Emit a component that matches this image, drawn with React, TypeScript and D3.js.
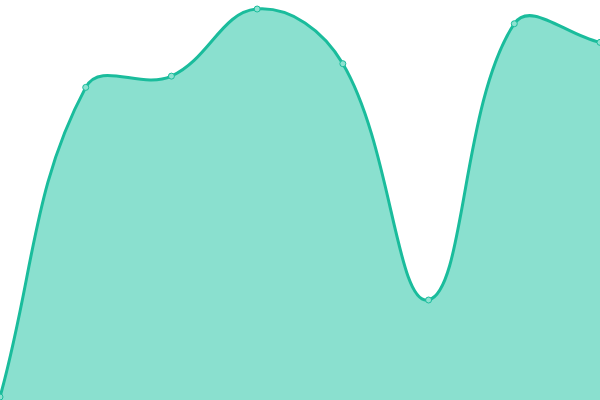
import React, { useEffect, useRef } from "react";
import * as d3 from "d3";

// values (y axis hidden, 0..100)
const labels = ["A", "B", "C", "D", "E", "F", "G", "H"];
const values = [0, 79.8, 82.7, 100, 85.9, 25, 96.2, 91.4];

const WIDTH = 600;
const HEIGHT = 400;
const LINE_COLOR = "#1abc9c";
const FILL_COLOR = "#8ae0cf";
const POINT_FILL = "#8ee2d1";

// spline like Chart.js "tension": control points weighted by the segment lengths
class TensionSpline {
  _context: any;
  _t: number;
  _w: number;
  _h: number;
  _line = NaN;
  _pts: [number, number][] = [];

  constructor(context: any, t: number, w: number, h: number) {
    this._context = context;
    this._t = t;
    this._w = w;
    this._h = h;
  }
  areaStart() {
    this._line = 0;
  }
  areaEnd() {
    this._line = NaN;
  }
  lineStart() {
    this._pts = [];
  }
  point(x: number, y: number) {
    this._pts.push([+x, +y]);
  }
  lineEnd() {
    const p = this._pts;
    const n = p.length;
    const ctx = this._context;
    const clampX = (v: number) => Math.max(0, Math.min(this._w, v));
    const clampY = (v: number) => Math.max(0, Math.min(this._h, v));
    if (n) {
      if (this._line) ctx.lineTo(p[0][0], p[0][1]);
      else ctx.moveTo(p[0][0], p[0][1]);

      const cpPrev: [number, number][] = [];
      const cpNext: [number, number][] = [];
      for (let i = 0; i < n; i++) {
        const prev = p[Math.max(0, i - 1)];
        const cur = p[i];
        const next = p[Math.min(n - 1, i + 1)];
        const d01 = Math.hypot(cur[0] - prev[0], cur[1] - prev[1]);
        const d12 = Math.hypot(next[0] - cur[0], next[1] - cur[1]);
        let s01 = d01 / (d01 + d12);
        let s12 = d12 / (d01 + d12);
        if (isNaN(s01)) s01 = 0;
        if (isNaN(s12)) s12 = 0;
        const fa = this._t * s01;
        const fb = this._t * s12;
        const dx = next[0] - prev[0];
        const dy = next[1] - prev[1];
        cpPrev.push([clampX(cur[0] - fa * dx), clampY(cur[1] - fa * dy)]);
        cpNext.push([clampX(cur[0] + fb * dx), clampY(cur[1] + fb * dy)]);
      }
      for (let i = 1; i < n; i++) {
        ctx.bezierCurveTo(
          cpNext[i - 1][0], cpNext[i - 1][1],
          cpPrev[i][0], cpPrev[i][1],
          p[i][0], p[i][1]
        );
      }
    }
    if (this._line || (this._line !== 0 && n === 1)) ctx.closePath();
    this._line = 1 - this._line;
  }
}

const tensionCurve = (t: number, w: number, h: number) => (context: any) =>
  new TensionSpline(context, t, w, h) as any;

export default function App() {
  const ref = useRef<SVGSVGElement>(null);

  useEffect(() => {
    document.body.style.margin = "0";
    if (!ref.current) return;
    const svg = d3.select(ref.current);
    svg.selectAll("*").remove();

    const x = d3
      .scalePoint<string>()
      .domain(labels)
      .range([0, WIDTH]);

    const y = d3.scaleLinear().domain([0, 100]).range([397, 9]);

    const curve = tensionCurve(0.4, WIDTH, HEIGHT);

    const area = d3
      .area<number>()
      .x((_, i) => x(labels[i]) as number)
      .y0(HEIGHT)
      .y1((d) => y(d))
      .curve(curve);

    const line = d3
      .line<number>()
      .x((_, i) => x(labels[i]) as number)
      .y((d) => y(d))
      .curve(curve);

    svg
      .append("path")
      .datum(values)
      .attr("fill", FILL_COLOR)
      .attr("d", area);

    svg
      .append("path")
      .datum(values)
      .attr("fill", "none")
      .attr("stroke", LINE_COLOR)
      .attr("stroke-width", 3)
      .attr("d", line);

    svg
      .selectAll("circle")
      .data(values)
      .join("circle")
      .attr("cx", (_, i) => x(labels[i]) as number)
      .attr("cy", (d) => y(d))
      .attr("r", 3)
      .attr("fill", POINT_FILL)
      .attr("stroke", LINE_COLOR)
      .attr("stroke-width", 1);
  }, []);

  return (
    <svg
      ref={ref}
      width={WIDTH}
      height={HEIGHT}
      style={{ display: "block", background: "#fff" }}
    />
  );
}
